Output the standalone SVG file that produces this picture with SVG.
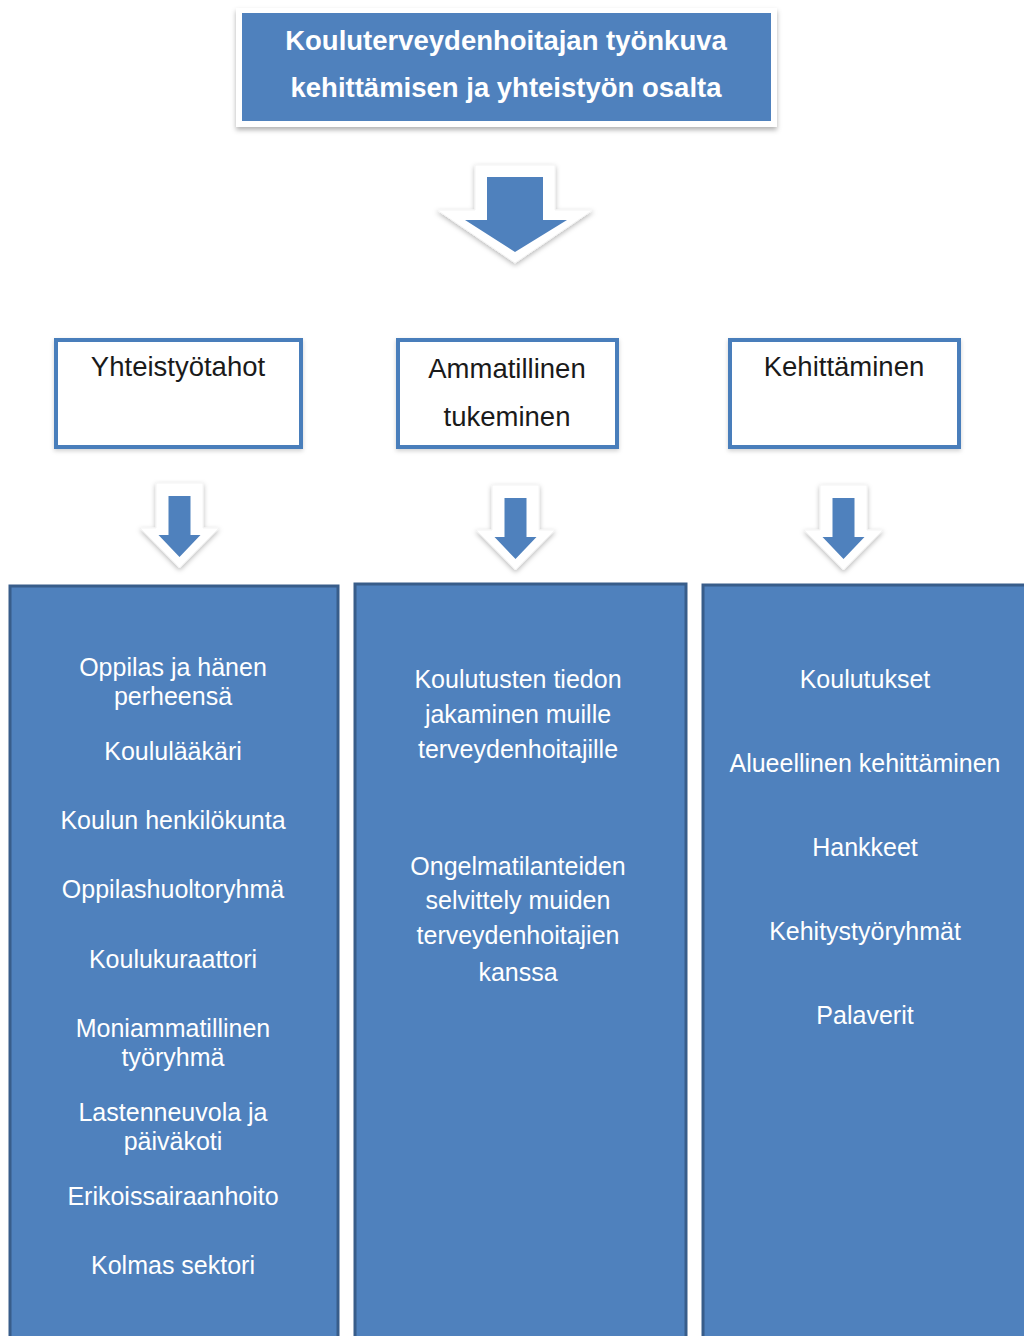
<svg xmlns="http://www.w3.org/2000/svg" width="1024" height="1336" viewBox="0 0 1024 1336">
<defs>
<filter id="sh" x="-20%" y="-20%" width="140%" height="150%">
<feDropShadow dx="0" dy="3" stdDeviation="2.5" flood-color="#000" flood-opacity="0.3"/>
</filter>
<filter id="sh2" x="-10%" y="-10%" width="120%" height="130%">
<feDropShadow dx="0" dy="2" stdDeviation="2" flood-color="#000" flood-opacity="0.18"/>
</filter>
<filter id="sha" x="-30%" y="-30%" width="160%" height="170%">
<feDropShadow dx="0" dy="2" stdDeviation="2.5" flood-color="#000" flood-opacity="0.28"/>
</filter>
<style>
.title{font-family:"Liberation Sans",Arial,sans-serif;font-weight:bold;font-size:27.5px;fill:#fff;text-anchor:middle}
.head{font-family:"Liberation Sans",Arial,sans-serif;font-size:27.5px;fill:#1a1a1a;text-anchor:middle}
.item{font-family:"Liberation Sans",Arial,sans-serif;font-size:25px;fill:#fff;text-anchor:middle}
.hbox{fill:#fff;stroke:#4a7ebb;stroke-width:4}
.col{fill:#4f81bd;stroke:#385d8a;stroke-width:3}
.aout{fill:#fff;stroke:#f4f4f4;stroke-width:1;filter:url(#sha)}
.ain{fill:#4f81bd}
</style>
</defs>
<rect width="1024" height="1336" fill="#fff"/>

<g id="title">
<rect x="236" y="8" width="541" height="119" fill="#fff" filter="url(#sh)"/>
<rect x="242" y="13" width="529" height="108" fill="#4f81bd"/>
<text class="title" x="506" y="50">Kouluterveydenhoitajan työnkuva</text>
<text class="title" x="506" y="97">kehittämisen ja yhteistyön osalta</text>
</g>

<g id="connectors">
<g id="arrow-main">
<polygon class="aout" points="475,165 555,165 555,210 593,210 515,263 437,210 475,210"/>
<polygon class="ain" points="487,177 543,177 543,220 567,220 515,252 465,220 487,220"/>
</g>
<g id="arrow-left">
<polygon class="aout" points="156,483 203,483 203,528 219,528 179.5,568 140,528 156,528"/>
<polygon class="ain" points="168.5,496 190.5,496 190.5,535 200.5,535 179.5,557 158.5,535 168.5,535"/>
</g>
<g id="arrow-mid">
<polygon class="aout" points="492,485 539,485 539,530 555,530 515.5,570 476,530 492,530"/>
<polygon class="ain" points="504.5,498 526.5,498 526.5,537 536.5,537 515.5,559 494.5,537 504.5,537"/>
</g>
<g id="arrow-right">
<polygon class="aout" points="820,485 867,485 867,530 883,530 843.5,570 804,530 820,530"/>
<polygon class="ain" points="832.5,498 854.5,498 854.5,537 864.5,537 843.5,559 822.5,537 832.5,537"/>
</g>
</g>

<g id="head-yhteistyotahot">
<rect class="hbox" x="56" y="340" width="245" height="107" filter="url(#sh2)"/>
<text class="head" x="178" y="376">Yhteistyötahot</text>
</g>
<g id="head-ammatillinen">
<rect class="hbox" x="398" y="340" width="219" height="107" filter="url(#sh2)"/>
<text class="head" x="507" y="378">Ammatillinen</text>
<text class="head" x="507" y="426">tukeminen</text>
</g>
<g id="head-kehittaminen">
<rect class="hbox" x="730" y="340" width="229" height="107" filter="url(#sh2)"/>
<text class="head" x="844" y="376">Kehittäminen</text>
</g>

<g id="col-left">
<rect class="col" x="10" y="586" width="328" height="770"/>
<text class="item" x="173" y="676">Oppilas ja hänen</text>
<text class="item" x="173" y="705">perheensä</text>
<text class="item" x="173" y="760">Koululääkäri</text>
<text class="item" x="173" y="829">Koulun henkilökunta</text>
<text class="item" x="173" y="898">Oppilashuoltoryhmä</text>
<text class="item" x="173" y="968">Koulukuraattori</text>
<text class="item" x="173" y="1037">Moniammatillinen</text>
<text class="item" x="173" y="1066">työryhmä</text>
<text class="item" x="173" y="1121">Lastenneuvola ja</text>
<text class="item" x="173" y="1150">päiväkoti</text>
<text class="item" x="173" y="1205">Erikoissairaanhoito</text>
<text class="item" x="173" y="1274">Kolmas sektori</text>
</g>

<g id="col-mid">
<rect class="col" x="355" y="584" width="331" height="772"/>
<text class="item" x="518" y="688">Koulutusten tiedon</text>
<text class="item" x="518" y="723">jakaminen muille</text>
<text class="item" x="518" y="758">terveydenhoitajille</text>
<text class="item" x="518" y="875">Ongelmatilanteiden</text>
<text class="item" x="518" y="909">selvittely muiden</text>
<text class="item" x="518" y="944">terveydenhoitajien</text>
<text class="item" x="518" y="981">kanssa</text>
</g>

<g id="col-right">
<rect class="col" x="703" y="585" width="330" height="771"/>
<text class="item" x="865" y="688">Koulutukset</text>
<text class="item" x="865" y="772">Alueellinen kehittäminen</text>
<text class="item" x="865" y="856">Hankkeet</text>
<text class="item" x="865" y="940">Kehitystyöryhmät</text>
<text class="item" x="865" y="1024">Palaverit</text>
</g>
</svg>
